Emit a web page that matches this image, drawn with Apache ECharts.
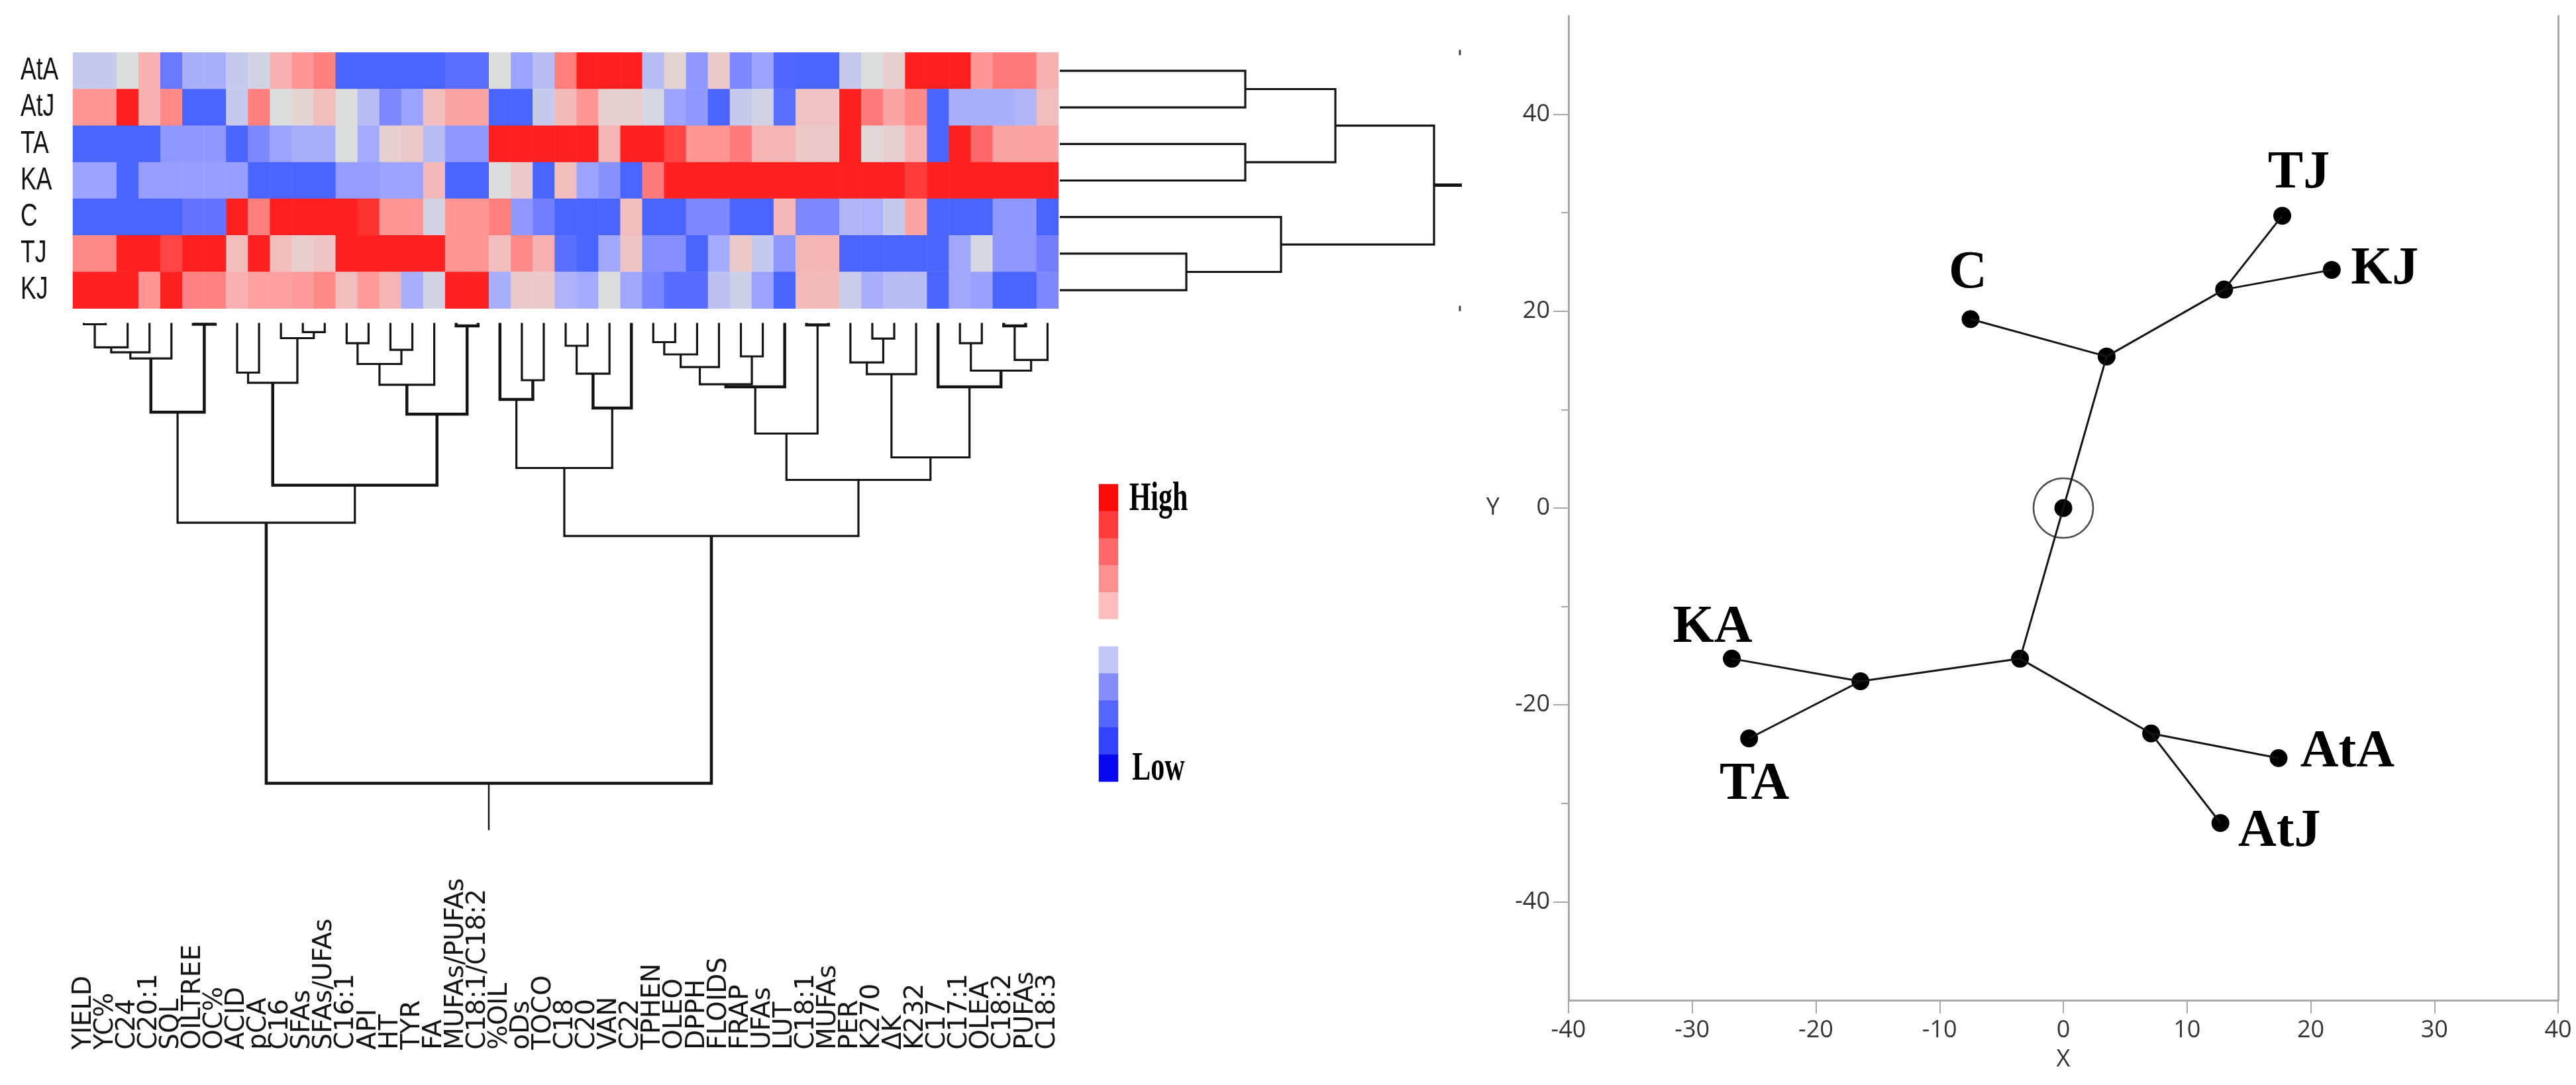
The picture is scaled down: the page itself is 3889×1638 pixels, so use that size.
<!DOCTYPE html>
<html><head><meta charset="utf-8">
<script src="https://cdn.jsdelivr.net/npm/echarts@6/dist/echarts.min.js"></script>
<style>html,body{margin:0;background:#fff}#c{width:3889px;height:1638px}</style></head>
<body><div id="c"></div>
<script>
const samples = ['AtA','AtJ','TA','KA','C','TJ','KJ'];
const traits = ['YIELD','YC%','C24','C20:1','SQL','OILTREE','OC%','ACID','pCA','C16','SFAs','SFAs/UFAs','C16:1','API','HT','TYR','FA','MUFAs/PUFAs','C18:1/C18:2','%OIL','oDs','TOCO','C18','C20','VAN','C22','TPHEN','OLEO','DPPH','FLOIDS','FRAP','UFAs','LUT','C18:1','MUFAs','PER','K270','ΔK','K232','C17','C17:1','OLEA','C18:2','PUFAs','C18:3'];
const rowAtA = [-1,-1,0,2,-4,-2,-2,-1,-.5,2,3,3.8,-5,-5,-5,-5,-5,-4.5,-4.5,0,-2.5,-1.5,3.8,5,5,5,-1.5,.5,-3,1,-3.5,-2.5,-4.8,-5,-5,-1,0,.7,5,5,5,3,4,4,2];
const rowAtJ = [3,3,5,2,3.5,-5,-5,-1,3.8,0,.5,1.5,0,-1.5,-3.5,-2.5,1.5,2.5,2.5,-5,-5,-1,1.6,3,.7,.7,-.3,-2.5,-3,-5,-1,-.5,-4.5,1.3,1.3,5,4,2.5,3.5,-5,-2,-2,-2,-1.7,1.5];
const rowTA = [-5,-5,-5,-5,-3,-3,-3,-5,-3.5,-2.5,-2,-2,0,-2.2,.7,1,-1.5,-3,-3,5,5,5,5,5,1.8,5,5,4.6,3,3,4,1.8,1.8,1,1,5,.3,.7,2,-5,5,4.2,2.5,2.5,2.5];
const rowKA = [-2.5,-2.5,-5,-2.7,-2.7,-2.7,-2.7,-2.7,-5,-5,-5,-5,-2.8,-2.8,-2.5,-2.5,1.7,-5,-5,0,1,-5,1.5,-2.5,-3.2,-5,4,5,5,5,5,5,5,5,5,5,5,5,4.7,5,5,5,5,5,5];
const rowC = [-5,-5,-5,-5,-5,-4.2,-4.2,5,3.8,5,5,5,5,4.8,3,3,-.5,3,3,3.8,-3,-3.8,-5,-5,-5,1.5,-5,-5,-3.5,-3.5,-5,-5,1.7,-3.5,-3.5,-1.7,-1.8,-1,2.5,-5,-5,-5,-3,-3,-5];
const rowTJ = [3.5,3.5,5,5,4.6,5,5,1.5,5,1.5,.8,1.2,5,5,5,5,5,3,3,1.5,3.5,2,-4.5,-5,-2.3,1.2,-3.3,-3.3,-5,-2.2,1,-1,-3,1.8,1.8,-5,-5,-5,-5,-5,-2.3,-.3,-3,-3,-3.8];
const rowKJ = [5,5,5,3,5,3.7,3.7,2,2.6,2.6,2.8,3.5,1.5,2.8,1.8,-2,-.5,5,5,-2,1,1,-1.8,-2.2,0,-2.3,-3.6,-4.6,-4.6,-1.3,-.7,-2.5,-5,1.6,1.6,-.8,-2,-1.5,-1.5,-5,-2.3,-2.6,-5,-5,-3.5];
const heatRows = [rowAtA,rowAtJ,rowTA,rowKA,rowC,rowTJ,rowKJ];

// Column tree: [childA, childB, height]; ids 0-44 are the columns, merges continue from 45
const colMerges = [[0,1,2],[45,2,36.8],[46,3,44.4],[47,4,53.6],[5,6,2],[48,49,134.8],[7,8,75],[10,11,13.8],[9,52,23],[51,53,90.4],[12,13,30.6],[14,15,40.6],[55,56,62],[57,16,93.4],[17,18,4.6],[58,59,137.8],[54,60,245],[50,61,301.7],[20,21,86.5],[19,63,115.6],[22,23,34.5],[65,24,76.6],[66,25,128.6],[64,67,219],[26,27,29],[69,28,47.5],[70,29,66.6],[30,31,50.5],[71,72,92.6],[73,32,96.5],[33,34,3],[74,75,167],[36,37,23.7],[35,77,59.7],[78,38,77.3],[40,41,30.6],[42,43,4.6],[81,44,55.9],[80,82,72],[39,83,96.5],[79,84,203],[76,85,237],[68,86,321.6],[62,87,695]];
const colRootHeight = 765.7;
const colHeavy = [49,50,59,60,61,64,67,75,81,84,88,74];
// Row tree: ids 0-6 are the rows, merges continue from 7
const rowMerges = [[0,1,280],[2,3,280],[7,8,416],[5,6,191],[4,10,334],[9,11,565]];
const rowRootHeight = 607;
const rowScaleMarks = [[604,0],[604,7]];

const legendLevels = [5,4,3,2,1,0,-1,-2,-3,-4,-5];
const legendColors = ['#fb0a0a','#ff3a3a','#ff6868','#ff9090','#ffbdbd','#ffffff','#c2c6f8','#858cfb','#5566ff','#3344ff','#0808f0'];
const heatStops = ['#4a64ff','#6a78ff','#8f98ff','#a9aefc','#c5c9ec','#dcdddd','#ecc9c9','#f9b0b0','#ff9595','#ff7a7a','#ff2020'];

const nodeNames = ['root','n1','n2','n3','n4','n5','TJ','KJ','C','KA','TA','AtA','AtJ'];
const nodeX = [0,13.0,3.5,-3.5,-16.4,7.1,17.7,21.7,-7.5,-26.8,-25.4,17.4,12.7];
const nodeY = [0,22.2,15.4,-15.3,-17.6,-22.9,29.7,24.2,19.2,-15.3,-23.4,-25.4,-32];
const treeEdges = [['root','n2'],['n2','C'],['n2','n1'],['n1','TJ'],['n1','KJ'],['root','n3'],['n3','n4'],['n4','KA'],['n4','TA'],['n3','n5'],['n5','AtA'],['n5','AtJ']];
const pointLabelOffsets = {TJ:[25,-63],KJ:[80,0],C:[-4,-68],KA:[-29,-46],TA:[8,71],AtA:[104,-8],AtJ:[89,14]};
const yMajorTicks = [-40,-20,0,20,40];
const yMinorTicks = [-30,-10,10,30];

function buildTree(merges, leafCount, rootHeight, heavy){
  const pos = [], h = [];
  for (let i=0;i<leafCount;i++){pos[i]=i+.5;h[i]=0;}
  const out=[];
  merges.forEach((m,i)=>{
    const id=leafCount+i, a=m[0], b=m[1];
    pos[id]=(pos[a]+pos[b])/2; h[id]=m[2];
    out.push([pos[a],h[a],pos[b],h[b],m[2],heavy.includes(id)?4.5:3.2]);
  });
  const last=leafCount+merges.length-1;
  out.push([pos[last],h[last],pos[last],h[last],rootHeight,heavy.includes(-1)?5:2.5]);
  return out;
}
function treeSeries(data, xi, yi, vertical){
  return {type:'custom',xAxisIndex:xi,yAxisIndex:yi,silent:true,clip:false,data,
    dimensions:['pa','ha','pb','hb','h','w'],
    renderItem:(p,api)=>{
      const pt=(a,d)=>api.coord(vertical?[a,d]:[d,a]);
      const pa=api.value(0),ha=api.value(1),pb=api.value(2),hb=api.value(3),d=api.value(4);
      return {type:'polyline',shape:{points:[pt(pa,ha),pt(pa,d),pt(pb,d),pt(pb,hb)]},
        style:{fill:null,stroke:'#141414',lineWidth:api.value(5),lineJoin:'miter'}};
    }};
}
const heatData=[];
heatRows.forEach((r,y)=>r.forEach((v,x)=>heatData.push([x,y,v])));
const idx=n=>nodeNames.indexOf(n);
const edgeLine=[];
treeEdges.forEach(e=>{edgeLine.push([nodeX[idx(e[0])],nodeY[idx(e[0])]],[nodeX[idx(e[1])],nodeY[idx(e[1])]],[null,null]);});
const pts=nodeNames.map((n,i)=>{
  const o=pointLabelOffsets[n];
  return {value:[nodeX[i],nodeY[i]],label:o?{show:true,position:'inside',offset:o,formatter:n}:{show:false}};
});
const axisGrey='#a8a8a8';
const chart=echarts.init(document.getElementById('c'),null,{renderer:'canvas'});
chart.setOption({
  animation:false,backgroundColor:'#fff',
  grid:[
    {left:110,top:79.3,width:1488,height:386.4},
    {left:110,top:487.5,width:1488,height:765.7},
    {left:1600,top:79.3,width:607,height:386.4},
    {left:1659,top:731,width:29,height:449},
    {left:2368,top:24,width:1494,height:1486}
  ],
  xAxis:[
    {gridIndex:0,type:'category',data:traits,position:'bottom',axisLine:{show:false},axisTick:{show:false},
      axisLabel:{interval:0,rotate:90,align:'left',verticalAlign:'middle',margin:1119,hideOverlap:false,padding:[0,0,16,0],
        fontFamily:'DejaVu Sans',fontSize:39,color:'#151515'}},
    {gridIndex:1,type:'value',min:0,max:45,show:false},
    {gridIndex:2,type:'value',min:0,max:rowRootHeight,show:false},
    {gridIndex:3,type:'category',data:['scale'],show:false},
    {gridIndex:4,type:'value',min:-40,max:40,interval:10,splitLine:{show:false},
      axisLine:{onZero:false,lineStyle:{color:axisGrey,width:3}},axisTick:{length:20,lineStyle:{color:axisGrey,width:2}},
      axisLabel:{fontFamily:'Open Sans',fontSize:36,color:'#333',margin:28},
      name:'X',nameLocation:'middle',nameGap:72,nameTextStyle:{fontFamily:'Open Sans',fontSize:36,color:'#333'}}
  ],
  yAxis:[
    {gridIndex:0,type:'category',data:samples,inverse:true,axisLine:{show:false},axisTick:{show:false},axisLabel:{show:false}},
    {gridIndex:1,type:'value',min:0,max:colRootHeight,inverse:true,show:false},
    {gridIndex:2,type:'value',min:0,max:7,inverse:true,show:false},
    {gridIndex:3,type:'category',data:legendLevels,inverse:true,show:false},
    {gridIndex:4,type:'value',min:-50,max:50,splitLine:{show:false},
      axisLine:{onZero:false,lineStyle:{color:axisGrey,width:3}},
      axisTick:{customValues:yMajorTicks,length:23,lineStyle:{color:axisGrey,width:2}},
      axisLabel:{customValues:yMajorTicks,fontFamily:'Open Sans',fontSize:36,color:'#333',margin:28},
      name:'Y',nameLocation:'middle',nameGap:104,nameRotate:0,nameTextStyle:{fontFamily:'Open Sans',fontSize:36,color:'#333'}},
    {gridIndex:4,type:'value',position:'right',min:-50,max:50,axisLabel:{show:false},axisTick:{show:false},splitLine:{show:false},
      axisLine:{show:true,onZero:false,lineStyle:{color:axisGrey,width:3}}},
    {gridIndex:4,type:'value',position:'left',min:-50,max:50,axisLabel:{show:false},splitLine:{show:false},
      axisLine:{show:false,onZero:false},axisTick:{show:true,customValues:yMinorTicks,length:11,lineStyle:{color:axisGrey,width:2}}}
  ],
  visualMap:[{type:'continuous',show:false,seriesIndex:0,min:-5,max:5,inRange:{color:heatStops}}],
  series:[
    {type:'heatmap',xAxisIndex:0,yAxisIndex:0,data:heatData,silent:true,progressive:0},
    treeSeries(buildTree(colMerges,45,colRootHeight,colHeavy),1,1,true),
    treeSeries(buildTree(rowMerges,7,rowRootHeight,[-1]),2,2,false),
    {type:'scatter',xAxisIndex:2,yAxisIndex:2,data:rowScaleMarks,symbol:'rect',symbolSize:[3,8],itemStyle:{color:'#111'},silent:true},
    {type:'heatmap',xAxisIndex:3,yAxisIndex:3,silent:true,
      data:legendLevels.map((l,i)=>({value:[0,i,l],itemStyle:{color:legendColors[i]}}))},
    {type:'line',xAxisIndex:4,yAxisIndex:4,data:edgeLine,symbol:'none',silent:true,connectNulls:false,
      lineStyle:{color:'#151515',width:3}},
    {type:'scatter',xAxisIndex:4,yAxisIndex:4,data:pts,symbolSize:27,itemStyle:{color:'#000',opacity:1},silent:true,
      label:{color:'#000',fontFamily:'Liberation Serif',fontWeight:'bold',fontSize:80}},
    {type:'scatter',xAxisIndex:4,yAxisIndex:4,data:[[nodeX[0],nodeY[0]]],symbolSize:90,silent:true,
      itemStyle:{color:'transparent',borderColor:'#222',borderWidth:2.5}}
  ]
});
const sampleLabels=samples.map((s,i)=>{
  const py=chart.convertToPixel({xAxisIndex:0,yAxisIndex:0},[0,i])[1];
  return {type:'text',x:31,y:py,scaleX:.74,style:{text:s,font:'48px "Liberation Sans"',fill:'#111',textAlign:'left',textVerticalAlign:'middle'}};
});
chart.setOption({graphic:sampleLabels.concat([
  {type:'text',x:1749,y:754,scaleY:1.48,style:{text:'High',font:'bold 42px "Liberation Serif"',fill:'#000',textAlign:'center',textVerticalAlign:'middle'}},
  {type:'text',x:1749,y:1161,scaleY:1.48,style:{text:'Low',font:'bold 42px "Liberation Serif"',fill:'#000',textAlign:'center',textVerticalAlign:'middle'}}
])});
</script></body></html>
